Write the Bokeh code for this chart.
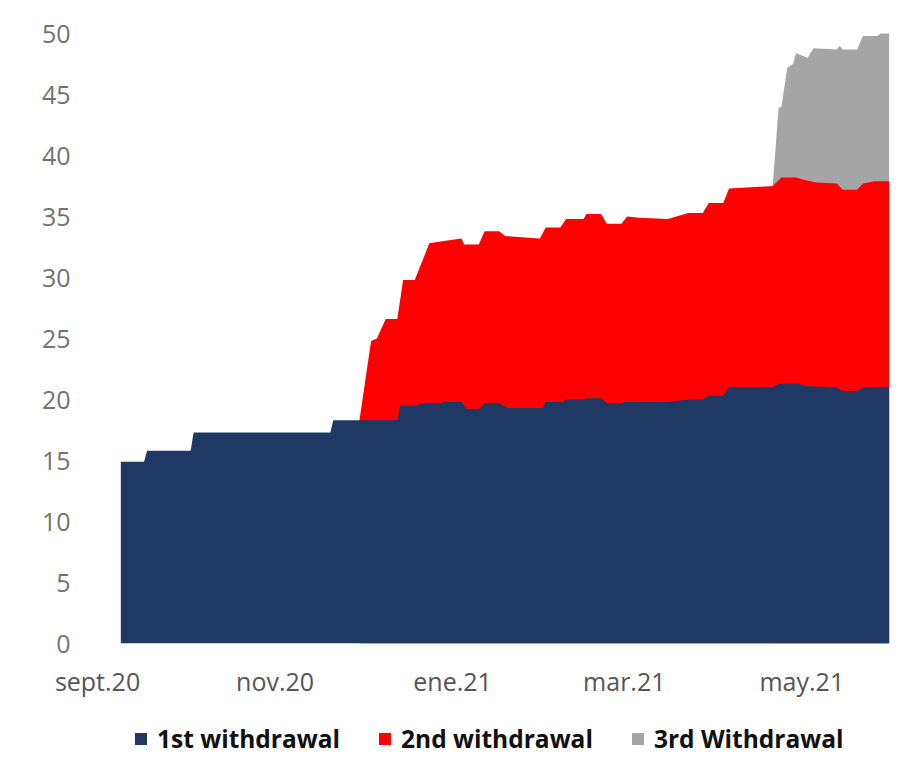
from datetime import datetime

import pandas as pd
from bokeh.embed import file_html
from bokeh.layouts import column
from bokeh.models import ColumnDataSource, FixedTicker, Legend, LegendItem, Range1d
from bokeh.plotting import figure
from bokeh.resources import INLINE

# Cumulative pension-fund withdrawals (US$ bn), stacked by withdrawal round.
first_dates = [
    "2020-09-09", "2020-09-17", "2020-09-18", "2020-10-03", "2020-10-04",
    "2020-11-20", "2020-11-21", "2020-12-13", "2020-12-14", "2020-12-20",
    "2020-12-21", "2020-12-28", "2020-12-29", "2021-01-04", "2021-01-06",
    "2021-01-10", "2021-01-12", "2021-01-17", "2021-01-20", "2021-02-01",
    "2021-02-02", "2021-02-08", "2021-02-09", "2021-02-15", "2021-02-16",
    "2021-02-21", "2021-02-23", "2021-02-28", "2021-03-01", "2021-03-16",
    "2021-03-23", "2021-03-28", "2021-03-30", "2021-04-04", "2021-04-06",
    "2021-04-21", "2021-04-23", "2021-04-30", "2021-05-02", "2021-05-13",
    "2021-05-15", "2021-05-20", "2021-05-22", "2021-05-31",
]
first_withdrawal = [
    14.9, 14.9, 15.8, 15.8, 17.3,
    17.3, 18.3, 18.3, 19.5, 19.5,
    19.7, 19.7, 19.8, 19.8, 19.2,
    19.2, 19.7, 19.7, 19.3, 19.3,
    19.8, 19.8, 20.0, 20.0, 20.1,
    20.1, 19.7, 19.7, 19.8, 19.8,
    20.0, 20.0, 20.3, 20.3, 21.0,
    21.0, 21.3, 21.3, 21.1, 21.0,
    20.7, 20.7, 21.0, 21.0,
]

# 1st + 2nd withdrawal (top of the red band)
second_dates = [
    "2020-11-30", "2020-12-04", "2020-12-06", "2020-12-09", "2020-12-13",
    "2020-12-15", "2020-12-19", "2020-12-24", "2020-12-29", "2021-01-04",
    "2021-01-05", "2021-01-10", "2021-01-12", "2021-01-17", "2021-01-19",
    "2021-01-31", "2021-02-02", "2021-02-07", "2021-02-09", "2021-02-15",
    "2021-02-16", "2021-02-21", "2021-02-23", "2021-02-28", "2021-03-02",
    "2021-03-06", "2021-03-16", "2021-03-23", "2021-03-28", "2021-03-30",
    "2021-04-04", "2021-04-06", "2021-04-21", "2021-04-24", "2021-04-29",
    "2021-05-02", "2021-05-06", "2021-05-13", "2021-05-15", "2021-05-20",
    "2021-05-22", "2021-05-26", "2021-05-31",
]
second_cumulative = [
    18.3, 24.8, 25.0, 26.6, 26.6,
    29.8, 29.8, 32.8, 33.0, 33.2,
    32.7, 32.7, 33.8, 33.8, 33.4,
    33.2, 34.1, 34.1, 34.8, 34.8,
    35.2, 35.2, 34.4, 34.4, 35.0,
    34.9, 34.8, 35.3, 35.3, 36.1,
    36.1, 37.3, 37.5, 38.2, 38.2,
    38.0, 37.8, 37.7, 37.2, 37.2,
    37.7, 37.9, 37.9,
]

# 1st + 2nd + 3rd withdrawal (top of the grey band)
third_dates = [
    "2021-04-21", "2021-04-23", "2021-04-24", "2021-04-26", "2021-04-28",
    "2021-04-29", "2021-05-01", "2021-05-03", "2021-05-05", "2021-05-13",
    "2021-05-14", "2021-05-15", "2021-05-20", "2021-05-22", "2021-05-27",
    "2021-05-28", "2021-05-31",
]
third_cumulative = [
    37.5, 43.9, 44.0, 47.2, 47.5,
    48.4, 48.2, 48.0, 48.8, 48.7,
    49.0, 48.7, 48.7, 49.8, 49.8,
    50.0, 50.0,
]

series_names = ["1st withdrawal", "2nd withdrawal", "3rd Withdrawal"]
series_colors = ["#1F3864", "#FF0000", "#A5A5A5"]

tick_dates = ["2020-09-01", "2020-11-01", "2021-01-01", "2021-03-01", "2021-05-01"]
tick_labels = ["sept.20", "nov.20", "ene.21", "mar.21", "may.21"]
y_ticks = [0, 5, 10, 15, 20, 25, 30, 35, 40, 45, 50]


def band_source(dates, values):
    return ColumnDataSource(dict(
        x=pd.to_datetime(dates),
        base=[0.0] * len(values),
        top=values,
    ))


p = figure(
    x_axis_type="datetime",
    width=903, height=706,
    min_border_left=78, min_border_right=10,
    min_border_top=20, min_border_bottom=63,
    x_range=Range1d(datetime(2020, 8, 25, 11), datetime(2021, 6, 1, 12)),
    y_range=Range1d(0, 51.07),
    output_backend="svg", toolbar_location=None,
    background_fill_color="white", border_fill_color="white",
    outline_line_color=None,
)
p.grid.visible = False

# Bands are drawn back to front: cumulative totals overlay each other.
gray_r = p.varea(x="x", y1="base", y2="top",
                 source=band_source(third_dates, third_cumulative),
                 fill_color=series_colors[2])
red_r = p.varea(x="x", y1="base", y2="top",
                source=band_source(second_dates, second_cumulative),
                fill_color=series_colors[1])
blue_r = p.varea(x="x", y1="base", y2="top",
                 source=band_source(first_dates, first_withdrawal),
                 fill_color=series_colors[0])

tick_ms = [pd.Timestamp(d).value / 1e6 for d in tick_dates]
xa = p.xaxis[0]
xa.ticker = FixedTicker(ticks=tick_ms)
xa.major_label_overrides = {t: lab for t, lab in zip(tick_ms, tick_labels)}
xa.axis_line_color = None
xa.major_tick_line_color = None
xa.minor_tick_line_color = None
xa.major_tick_out = 0
xa.major_label_standoff = 20
xa.major_label_text_font = "Open Sans"
xa.major_label_text_font_size = "25px"
xa.major_label_text_color = "#555555"

ya = p.yaxis[0]
ya.ticker = FixedTicker(ticks=y_ticks)
ya.axis_line_color = None
ya.major_tick_line_color = None
ya.minor_tick_line_color = None
ya.major_tick_out = 0
ya.major_label_standoff = 8
ya.major_label_text_font = "Open Sans"
ya.major_label_text_font_size = "25px"
ya.major_label_text_color = "#727272"

# Legend strip under the chart; its swatches take the band colours.
# The swatch renderers are flat (zero-height) areas, so only the key shows.
key = figure(
    width=903, height=58,
    x_range=Range1d(0, 1), y_range=Range1d(0, 1),
    x_axis_location=None, y_axis_location=None,
    min_border_left=78, min_border_right=10, min_border_top=0, min_border_bottom=0,
    output_backend="svg", toolbar_location=None,
    background_fill_color="white", border_fill_color="white",
    outline_line_color=None,
)
key.grid.visible = False
swatches = [
    key.varea(x=[0, 1], y1=[0, 0], y2=[0, 0], fill_color=c) for c in series_colors
]

legend = Legend(
    items=[LegendItem(label=n, renderers=[r]) for n, r in zip(series_names, swatches)],
    orientation="horizontal",
    location=(55, 9),
    border_line_color=None,
    background_fill_alpha=0,
    label_text_font="Open Sans",
    label_text_font_style="bold",
    label_text_font_size="24.5px",
    label_text_color="#111111",
    glyph_width=15, glyph_height=15,
    label_standoff=9,
    spacing=37,
    padding=4, margin=0,
)
key.add_layout(legend, "center")

open("out.html", "w").write(file_html(column(p, key, spacing=0), INLINE))
